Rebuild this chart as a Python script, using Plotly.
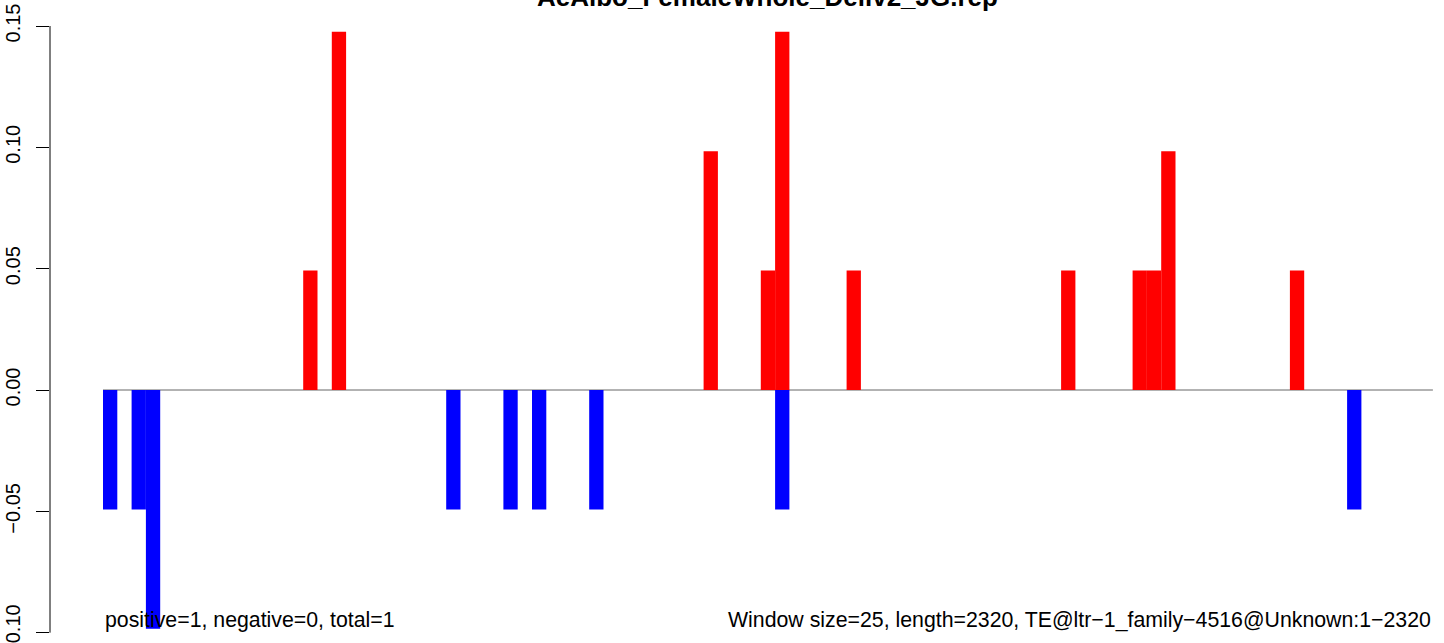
import plotly.graph_objects as go

# ---- data ----
n_bins = 93
pos_bins = [14, 16, 42, 46, 47, 52, 67, 72, 73, 74, 83]
pos_vals = [0.0492, 0.1476, 0.0984, 0.0492, 0.1476, 0.0492, 0.0492, 0.0492, 0.0492, 0.0984, 0.0492]
neg_bins = [0, 2, 3, 24, 28, 30, 34, 47, 87]
neg_vals = [-0.0492, -0.0492, -0.0984, -0.0492, -0.0492, -0.0492, -0.0492, -0.0492, -0.0492]
y_tickvals = [-0.10, -0.05, 0.00, 0.05, 0.10, 0.15]
y_ticktext = ["\u22120.10", "\u22120.05", "0.00", "0.05", "0.10", "0.15"]
title_text = "AeAlbo_FemaleWhole_Deliv2_JG.rep"
left_text = "positive=1, negative=0, total=1"
right_text = "Window size=25, length=2320, TE@ltr\u22121_family\u22124516@Unknown:1\u22122320"

W, H = 1444, 643
ML = 50
x0_px, bin_px = 103, 14.3
y0_px, y_per = 390, 364 / 0.15

x_range = [-(x0_px - ML) / bin_px, (W - x0_px) / bin_px]
y_range = [-(H - y0_px) / y_per, y0_px / y_per]

fig = go.Figure()
fig.add_trace(go.Bar(x=[b + 0.5 for b in pos_bins], y=pos_vals, width=1,
                     marker=dict(color="#FF0000", line=dict(width=0)), showlegend=False))
fig.add_trace(go.Bar(x=[b + 0.5 for b in neg_bins], y=neg_vals, width=1,
                     marker=dict(color="#0000FF", line=dict(width=0)), showlegend=False))

font = "Liberation Sans, Arial, sans-serif"
fig.update_layout(
    template="none",
    width=W, height=H,
    margin=dict(l=ML, r=0, t=0, b=0, pad=0),
    paper_bgcolor="white", plot_bgcolor="white",
    barmode="overlay",
    font=dict(family=font, size=20, color="black"),
    xaxis=dict(range=x_range, visible=False, showgrid=False, zeroline=False, automargin=False),
    yaxis=dict(range=y_range, tickvals=y_tickvals, ticktext=y_ticktext, tickangle=-90,
               ticks="outside", ticklen=13, tickwidth=1, tickcolor="black",
               ticklabelstandoff=8, ticklabeloverflow="allow",
               showline=False, showgrid=False, zeroline=False, automargin=False,
               tickfont=dict(family=font, size=20, color="black")),
    shapes=[
        dict(type="line", xref="paper", yref="y", x0=0, x1=0, y0=-0.10, y1=0.15,
             line=dict(color="black", width=1)),
        dict(type="line", xref="x", yref="y", x0=0, x1=n_bins, y0=0, y1=0,
             line=dict(color="#666666", width=1), layer="below"),
    ],
    annotations=[
        dict(text="<b>" + title_text + "</b>", xref="x", yref="paper", x=n_bins / 2,
             y=1 + 3.0 / H, xanchor="center", yanchor="middle", showarrow=False,
             font=dict(family=font, size=26, color="black")),
        dict(text=left_text, xref="x", yref="y", x=0, y=(y0_px - 620) / y_per,
             xanchor="left", yanchor="middle", showarrow=False,
             font=dict(family=font, size=21.3, color="black")),
        dict(text=right_text, xref="x", yref="y", x=n_bins, y=(y0_px - 620) / y_per,
             xanchor="right", yanchor="middle", showarrow=False,
             font=dict(family=font, size=21.3, color="black")),
    ],
)

fig.write_html("out.html", config={"displayModeBar": False},
               post_script="document.body.style.margin='0';document.body.style.overflow='hidden';")
